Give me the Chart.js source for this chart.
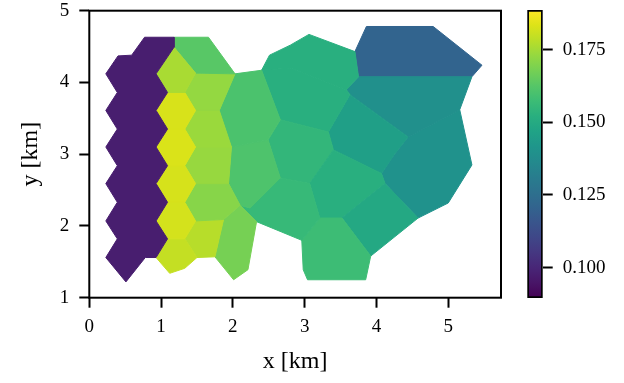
<!DOCTYPE html>
<html>
<head>
<meta charset="utf-8">
<script src="https://cdn.jsdelivr.net/npm/chart.js@4/dist/chart.umd.min.js"></script>
<style>
  html, body { margin: 0; padding: 0; background: #fff; }
  #wrap { position: relative; width: 624px; height: 383px; }
  #wrap canvas { position: absolute; left: 0; top: 0; }
</style>
</head>
<body>
<div id="wrap">
  <canvas id="map" width="624" height="383"></canvas>
  <canvas id="bar" width="624" height="383"></canvas>
</div>
<script>
// Colour limits of the field (shared by the map and the colour bar)
const colourMin = 0.0895;
const colourMax = 0.1887;

// Tick positions
const xTicks = [0, 1, 2, 3, 4, 5];
const yTicks = [1, 2, 3, 4, 5];
const colourTicks = [0.100, 0.125, 0.150, 0.175];

// Cell names and the value carried by each cell
const cellNames = ['west block', 'Y1', 'Y2', 'Y3', 'Y4', 'Y5', 'Y6',
  'G1', 'G2', 'G3', 'G4', 'G5', 'G6', 'G7',
  'C1', 'C2', 'C3', 'E', 'F1', 'F3', 'D3', 'D2', 'D1', 'H3', 'H1', 'F2', 'N'];
const cellValues = [0.0974, 0.1758, 0.1827, 0.1830, 0.1825, 0.1822, 0.1798,
  0.1629, 0.1728, 0.1738, 0.1733, 0.1708, 0.1778, 0.1679,
  0.1604, 0.1609, 0.1560, 0.1575, 0.1490, 0.1520, 0.1550, 0.1520, 0.1520, 0.1455, 0.1391, 0.1400, 0.1209];

// Cell outlines, vertices in km (x, y)
const cellOutlines = [
  [[0.23,4.12],[0.40,4.37],[0.59,4.38],[0.77,4.63],[1.18,4.63],[1.18,4.49],[0.93,4.12],[1.09,3.86],[0.93,3.61],[1.09,3.35],[0.93,3.10],[1.09,2.84],[0.93,2.59],[1.09,2.33],[0.93,2.07],[1.09,1.82],[0.93,1.56],[0.78,1.56],[0.51,1.22],[0.23,1.56],[0.39,1.82],[0.23,2.07],[0.39,2.33],[0.23,2.59],[0.39,2.84],[0.23,3.10],[0.39,3.35],[0.23,3.61],[0.39,3.86]],
  [[1.18,4.49],[1.48,4.13],[1.33,3.86],[1.09,3.86],[0.93,4.12]],
  [[0.93,3.61],[1.09,3.86],[1.33,3.86],[1.48,3.61],[1.33,3.35],[1.09,3.35]],
  [[0.93,3.10],[1.09,3.35],[1.33,3.35],[1.48,3.10],[1.33,2.84],[1.09,2.84]],
  [[0.93,2.59],[1.09,2.84],[1.33,2.84],[1.48,2.59],[1.33,2.33],[1.09,2.33]],
  [[0.93,2.07],[1.09,2.33],[1.33,2.33],[1.48,2.07],[1.33,1.82],[1.09,1.82]],
  [[0.93,1.56],[1.09,1.82],[1.33,1.82],[1.50,1.56],[1.33,1.41],[1.12,1.34]],
  [[1.18,4.63],[1.66,4.63],[2.03,4.12],[1.48,4.13],[1.18,4.49]],
  [[1.48,4.13],[2.03,4.12],[1.81,3.61],[1.48,3.61],[1.33,3.86]],
  [[1.48,3.61],[1.81,3.61],[1.98,3.10],[1.48,3.10],[1.33,3.35]],
  [[1.48,3.10],[1.98,3.10],[1.94,2.59],[1.48,2.59],[1.33,2.84]],
  [[1.48,2.59],[1.94,2.59],[2.10,2.29],[1.87,2.09],[1.48,2.07],[1.33,2.33]],
  [[1.48,2.07],[1.87,2.09],[1.75,1.57],[1.50,1.56],[1.33,1.82]],
  [[1.87,2.09],[2.10,2.29],[2.33,2.06],[2.21,1.39],[2.01,1.25],[1.75,1.57]],
  [[2.03,4.12],[2.40,4.17],[2.66,3.48],[2.49,3.20],[1.98,3.10],[1.81,3.61]],
  [[1.98,3.10],[2.49,3.20],[2.66,2.67],[2.24,2.25],[2.10,2.29],[1.94,2.59]],
  [[2.10,2.29],[2.24,2.25],[2.66,2.67],[3.07,2.59],[3.21,2.11],[2.96,1.80],[2.33,2.06]],
  [[2.96,1.80],[2.98,1.39],[3.04,1.25],[3.85,1.25],[3.92,1.58],[3.52,2.11],[3.21,2.11]],
  [[3.52,2.11],[4.12,2.59],[4.58,2.11],[3.92,1.58]],
  [[3.07,2.59],[3.40,3.06],[4.07,2.73],[4.12,2.59],[3.52,2.11],[3.21,2.11]],
  [[2.49,3.20],[2.66,3.48],[3.33,3.31],[3.40,3.06],[3.07,2.59],[2.66,2.67]],
  [[2.40,4.17],[2.80,4.20],[3.58,3.90],[3.63,3.83],[3.33,3.31],[2.66,3.48]],
  [[2.40,4.17],[2.51,4.38],[2.80,4.52],[3.06,4.67],[3.70,4.43],[3.75,4.08],[3.58,3.90],[2.80,4.20]],
  [[3.63,3.83],[4.44,3.24],[4.25,3.00],[4.07,2.73],[3.40,3.06],[3.33,3.31]],
  [[3.75,4.08],[5.33,4.08],[5.16,3.62],[4.44,3.24],[3.63,3.83],[3.58,3.90]],
  [[4.44,3.24],[5.16,3.62],[5.33,2.85],[5.00,2.32],[4.58,2.11],[4.12,2.59],[4.07,2.73],[4.25,3.00]],
  [[3.70,4.43],[3.86,4.78],[4.79,4.78],[5.47,4.24],[5.33,4.08],[3.75,4.08]]
];

// Viridis colour map, evenly spaced stops
const viridisStops = ['#440154','#481567','#482677','#453781','#3f4788','#39558c','#32648e','#2d718e',
  '#287d8e','#238a8d','#1f968b','#20a386','#29af7f','#3cbc75','#56c667','#75d054','#95d840',
  '#bade28','#dde318','#fde725'];

function hexToRgb(h) {
  return [parseInt(h.slice(1, 3), 16), parseInt(h.slice(3, 5), 16), parseInt(h.slice(5, 7), 16)];
}
const viridisRgb = viridisStops.map(hexToRgb);

function viridis(t) {
  t = Math.min(1, Math.max(0, t));
  const f = t * (viridisRgb.length - 1);
  const i = Math.min(viridisRgb.length - 2, Math.floor(f));
  const u = f - i;
  const a = viridisRgb[i], b = viridisRgb[i + 1];
  const c = a.map((v, k) => Math.round(v + (b[k] - v) * u));
  return `rgb(${c[0]},${c[1]},${c[2]})`;
}
function colourOf(v) {
  return viridis((v - colourMin) / (colourMax - colourMin));
}

const serif = '"Liberation Serif", "DejaVu Serif", serif';
Chart.defaults.color = '#000';
Chart.defaults.font.family = serif;

// One closed, filled line per cell
const cellDatasets = cellOutlines.map((pts, i) => {
  const colour = colourOf(cellValues[i]);
  return {
    label: cellNames[i],
    data: pts.concat([pts[0]]).map(p => ({ x: p[0], y: p[1] })),
    fill: 'shape',
    backgroundColor: colour,
    borderColor: colour,
    borderWidth: 1,
    pointRadius: 0,
    tension: 0
  };
});

// Black box around the plotting area
const frame = {
  id: 'frame',
  afterDraw(chart) {
    const { ctx, chartArea: a } = chart;
    ctx.save();
    ctx.strokeStyle = '#000';
    ctx.lineWidth = 2;
    ctx.strokeRect(a.left, a.top, a.right - a.left, a.bottom - a.top);
    ctx.restore();
  }
};

// Keep edge labels from pushing the plotting area inwards
function noEdgePadding(s) {
  s.paddingTop = 0; s.paddingBottom = 0; s.paddingLeft = 0; s.paddingRight = 0;
}

const tickGrid = { drawOnChartArea: false, drawTicks: true, tickLength: 10, tickWidth: 2, tickColor: '#000' };

new Chart(document.getElementById('map'), {
  type: 'line',
  data: { datasets: cellDatasets },
  plugins: [frame],
  options: {
    responsive: false,
    animation: false,
    events: [],
    layout: { padding: { left: 0, top: 10.7, right: 123, bottom: 0 } },
    plugins: { legend: { display: false }, tooltip: { enabled: false } },
    scales: {
      x: {
        type: 'linear',
        min: 0,
        max: 5.735,
        afterBuildTicks: s => { s.ticks = xTicks.map(v => ({ value: v })); },
        afterFit: s => { s.height = 85.3; noEdgePadding(s); },
        grid: tickGrid,
        border: { display: false },
        ticks: { font: { size: 19, lineHeight: 1 }, padding: 10, maxRotation: 0 },
        title: { display: true, text: 'x [km]', font: { size: 24 }, padding: { top: 0, bottom: 7 } }
      },
      y: {
        type: 'linear',
        min: 1,
        max: 5,
        afterBuildTicks: s => { s.ticks = yTicks.map(v => ({ value: v })); },
        afterFit: s => { s.width = 89.3; noEdgePadding(s); },
        grid: tickGrid,
        border: { display: false },
        ticks: { font: { size: 19, lineHeight: 1 }, padding: 10 },
        title: { display: true, text: 'y [km]', font: { size: 24 }, padding: { top: 16, bottom: 0 } }
      }
    }
  }
});

// Colour bar: one floating bar spanning the colour limits, painted with the map
function barGradient(chart) {
  const ys = chart.scales.y;
  if (!chart.chartArea || !ys) return colourOf(colourMin);
  const g = chart.ctx.createLinearGradient(0, ys.getPixelForValue(colourMin), 0, ys.getPixelForValue(colourMax));
  viridisStops.forEach((c, k) => g.addColorStop(k / (viridisStops.length - 1), c));
  return g;
}

new Chart(document.getElementById('bar'), {
  type: 'bar',
  data: {
    labels: [''],
    datasets: [{
      data: [[colourMin, colourMax]],
      backgroundColor: ctx => barGradient(ctx.chart),
      borderColor: '#000',
      borderWidth: 2,
      borderSkipped: false,
      barPercentage: 1,
      categoryPercentage: 1
    }]
  },
  options: {
    responsive: false,
    animation: false,
    events: [],
    layout: { padding: { left: 527.3, top: 10, right: 0, bottom: 85 } },
    plugins: { legend: { display: false }, tooltip: { enabled: false } },
    scales: {
      x: { display: false },
      y: {
        position: 'right',
        min: colourMin,
        max: colourMax,
        afterBuildTicks: s => { s.ticks = colourTicks.map(v => ({ value: v })); },
        afterFit: s => { s.width = 81.3; noEdgePadding(s); },
        grid: tickGrid,
        border: { display: false },
        ticks: { font: { size: 19, lineHeight: 1 }, padding: 10, callback: v => v.toFixed(3) }
      }
    }
  }
});
</script>
</body>
</html>
